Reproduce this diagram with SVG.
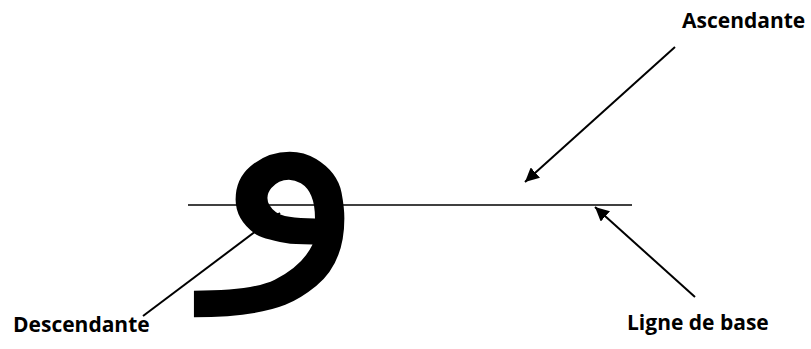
<svg xmlns="http://www.w3.org/2000/svg" width="811" height="349" viewBox="0 0 811 349">
<style>
.lbl{font-family:"Open Sans","Liberation Sans",sans-serif;font-weight:bold;font-size:21px;fill:#000}
.conn{stroke:#000;stroke-width:2;fill:none}
.glyph{font-family:"DejaVu Sans",sans-serif;font-size:296px;fill:#000}
</style>
<defs>
<marker id="ah" viewBox="0 0 10 10" refX="10" refY="5" markerWidth="7" markerHeight="7" markerUnits="strokeWidth" orient="auto">
<path d="M0,0 L10,5 L0,10 z" fill="#000"/>
</marker>
</defs>
<g id="baseline"><line x1="188" y1="205" x2="632" y2="205" stroke="#000" stroke-width="1.5"/></g>
<g id="letter"><text class="glyph" transform="translate(289,245) scale(1.135,1)" x="0" y="0" text-anchor="middle">و</text></g>
<g id="connectors">
<line class="conn" x1="675" y1="47" x2="525" y2="182" marker-end="url(#ah)"/>
<line class="conn" x1="143" y1="316" x2="280" y2="213" marker-end="url(#ah)"/>
<line class="conn" x1="695" y1="297" x2="595" y2="207" marker-end="url(#ah)"/>
</g>
<g id="ascendante"><text class="lbl" x="682" y="28">Ascendante</text></g>
<g id="descendante"><text class="lbl" x="13" y="332">Descendante</text></g>
<g id="ligne"><text class="lbl" x="627" y="330">Ligne de base</text></g>
</svg>
